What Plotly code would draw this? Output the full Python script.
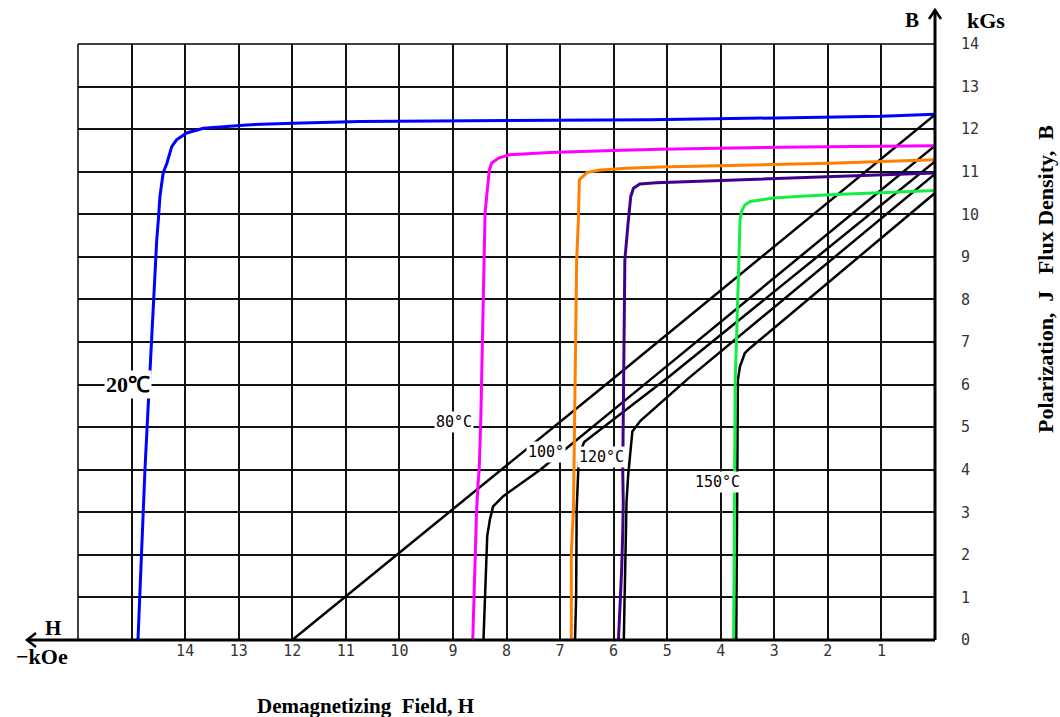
import plotly.graph_objects as go

# ---------------- data (H in kOe, J/B in kGs) ----------------
h_ticks = list(range(0, 17))
h_tick_text = ["" if (v == 0 or v > 14) else str(v) for v in h_ticks]
b_ticks = list(range(0, 15))
b_tick_text = [str(v) for v in b_ticks]

# 20 C
j20_h = [14.88, 14.85, 14.82, 14.79, 14.75, 14.71, 14.67, 14.63, 14.59, 14.56, 14.53, 14.50, 14.47, 14.41, 14.34, 14.25, 14.16, 13.97, 13.66, 13.22, 12.85, 11.99, 10.74, 5.32, 1.0, 0.0]
j20_j = [0, 1, 2, 3, 4, 5, 6, 7, 8, 8.53, 9.40, 9.87, 10.42, 10.97, 11.20, 11.59, 11.75, 11.91, 12.02, 12.06, 12.10, 12.14, 12.18, 12.22, 12.30, 12.35]
b20_h = [12.0, 9.08, 6.0, 0.0]
b20_b = [0, 3.0, 6.15, 12.34]

# 80 C
j80_h = [8.63, 8.62, 8.59, 8.56, 8.53, 8.51, 8.48, 8.45, 8.43, 8.40, 8.37, 8.32, 8.28, 8.15, 7.94, 7.19, 6.01, 5.13, 2.5, 0.0]
j80_j = [0, 0.48, 1.93, 2.99, 3.69, 4.0, 5.18, 7.0, 8.93, 10.03, 10.42, 11.04, 11.20, 11.32, 11.40, 11.45, 11.50, 11.53, 11.58, 11.61]
b80_h = [8.43, 8.40, 8.36, 8.31, 8.25, 8.06, 7.37, 5.32, 0.0]
b80_b = [0, 1.26, 2.44, 2.83, 3.14, 3.38, 4.0, 6.11, 11.61]

# 100 C
j100_h = [6.79, 6.79, 6.75, 6.74, 6.72, 6.69, 6.66, 6.64, 6.64, 6.50, 6.25, 5.76, 5.13, 1.96, 0.0]
j100_j = [0, 2.05, 3.06, 4.0, 6.0, 8.93, 9.79, 10.42, 10.81, 10.98, 11.04, 11.08, 11.11, 11.20, 11.28]
b100_h = [6.72, 6.70, 6.69, 6.66, 6.63, 6.55, 4.95, 0.0]
b100_b = [0, 1.03, 3.06, 4.0, 4.4, 4.65, 6.2, 11.24]

# 120 C
j120_h = [5.91, 5.88, 5.85, 5.83, 5.82, 5.83, 5.79, 5.73, 5.68, 5.63, 5.51, 5.20, 2.84, 0.0]
j120_j = [0, 0.72, 1.65, 2.52, 3.22, 4.0, 8.93, 9.79, 10.42, 10.61, 10.71, 10.74, 10.85, 10.97]
b120_h = [5.81, 5.79, 5.76, 5.73, 5.69, 5.65, 5.50, 4.61, 0.0]
b120_b = [0, 1.65, 3.22, 3.85, 4.4, 4.9, 5.15, 6.14, 10.95]

# 150 C
j150_h = [3.76, 3.75, 3.73, 3.70, 3.67, 3.65, 3.64, 3.61, 3.55, 3.45, 3.02, 2.58, 1.96, 0.0]
j150_j = [0, 3.0, 6.11, 7.29, 8.46, 9.24, 9.87, 10.07, 10.22, 10.30, 10.38, 10.42, 10.46, 10.56]
b150_h = [3.71, 3.70, 3.68, 3.64, 3.55, 3.45, 3.02, 2.52, 0.0]
b150_b = [0, 3.0, 6.11, 6.43, 6.74, 6.86, 7.31, 7.84, 10.50]

labels = ["20℃", "80°C", "100°", "120°C", "150°C"]
label_h = [15.07, 8.98, 7.26, 6.22, 4.07]
label_b = [6.0, 5.13, 4.42, 4.31, 3.70]

# ---------------- figure ----------------
W, H = 1060, 717
L, R, T, B = 78, 125, 44, 77
PW, PH = W - L - R, H - T - B


def px(xp):
    return (xp - L) / PW


def py(yp):
    return (H - B - yp) / PH


fig = go.Figure()

black_sets = [(b20_h, b20_b), (b80_h, b80_b), (b100_h, b100_b), (b120_h, b120_b), (b150_h, b150_b)]
for hx, by in black_sets:
    fig.add_trace(go.Scatter(x=hx, y=by, mode="lines", line=dict(color="black", width=2.5),
                             showlegend=False, hoverinfo="skip"))

color_sets = [
    (j20_h, j20_j, "#0000ff"),
    (j80_h, j80_j, "#ff00ff"),
    (j100_h, j100_j, "#ff8000"),
    (j120_h, j120_j, "#40008c"),
    (j150_h, j150_j, "#11ee44"),
]
for hx, jy, c in color_sets:
    fig.add_trace(go.Scatter(x=hx, y=jy, mode="lines", line=dict(color=c, width=3),
                             showlegend=False, hoverinfo="skip"))

mono = "DejaVu Sans Mono"
serif = "Liberation Serif"

fig.update_layout(
    width=W, height=H,
    margin=dict(l=L, r=R, t=T, b=B),
    paper_bgcolor="white", plot_bgcolor="white",
    showlegend=False,
    xaxis=dict(range=[16, 0], tickvals=h_ticks, ticktext=h_tick_text,
               showgrid=True, gridcolor="#111111", gridwidth=1.5, zeroline=False,
               showline=False, ticks="", tickfont=dict(family=mono, size=15, color="#333")),
    yaxis=dict(range=[0, 14], tickvals=b_ticks, ticktext=b_tick_text, side="right",
               showgrid=True, gridcolor="#111111", gridwidth=1.5, zeroline=False,
               showline=False, ticks="outside", ticklen=22, tickcolor="rgba(0,0,0,0)",
               tickfont=dict(family=mono, size=15, color="#333")),
)

shapes = []
# frame
shapes.append(dict(type="line", xref="paper", yref="paper", x0=0, x1=0, y0=0, y1=1,
                   line=dict(color="black", width=1.5)))
shapes.append(dict(type="line", xref="paper", yref="paper", x0=0, x1=1, y0=1, y1=1,
                   line=dict(color="black", width=1.5)))
# right axis (thick, extended upward) and bottom axis (thick, extended left)
shapes.append(dict(type="line", xref="paper", yref="paper", x0=1, x1=1, y0=0, y1=py(10),
                   line=dict(color="black", width=3)))
shapes.append(dict(type="line", xref="paper", yref="paper", x0=px(27), x1=1, y0=0, y1=0,
                   line=dict(color="black", width=3)))
# arrow heads
shapes.append(dict(type="path", xref="paper", yref="paper",
                   path=f"M {px(929)},{py(19)} L {px(935)},{py(10)} L {px(941)},{py(19)}",
                   line=dict(color="black", width=2.5)))
shapes.append(dict(type="path", xref="paper", yref="paper",
                   path=f"M {px(36)},{py(633)} L {px(27)},{py(640)} L {px(36)},{py(647)}",
                   line=dict(color="black", width=2.5)))
fig.update_layout(shapes=shapes)

ann = []
for i, (t, hx, by) in enumerate(zip(labels, label_h, label_b)):
    if i == 0:
        f = dict(family=serif, size=22, color="black")
        t = "<b>" + t + "</b>"
    else:
        f = dict(family=mono, size=15, color="black")
    ann.append(dict(x=hx, y=by, xref="x", yref="y", text=t, showarrow=False, font=f,
                    bgcolor="white", borderpad=1, xanchor="center", yanchor="middle"))


def paper_text(text, x, y, size, angle=0):
    ann.append(dict(x=px(x), y=py(y), xref="paper", yref="paper", text=text, textangle=angle,
                    showarrow=False, xanchor="center", yanchor="middle",
                    font=dict(family=serif, size=size, color="black")))


paper_text("<b>Demagnetizing  Field, H</b>", 365, 706, 21)
paper_text("<b>Polarization,  J   Flux Density,  B</b>", 1045, 279, 22, -90)
paper_text("<b>B</b>", 912, 20, 21)
paper_text("<b>kGs</b>", 986, 20, 22)
paper_text("<b>H</b>", 53, 628, 21)
paper_text("<b>−kOe</b>", 42, 656, 22)
fig.update_layout(annotations=ann)

fig.write_html("out.html", config={"displayModeBar": False},
               post_script="document.body.style.margin='0';document.body.style.overflow='hidden';")
